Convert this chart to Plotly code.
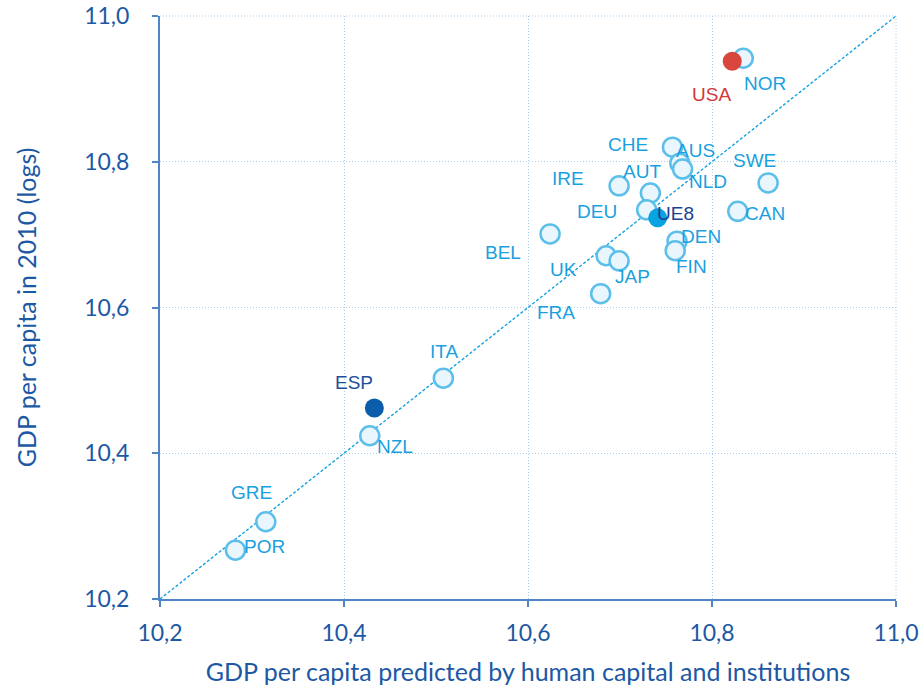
import plotly.graph_objects as go

countries = ["NOR", "USA", "CHE", "AUS", "NLD", "IRE", "AUT", "DEU", "UE8", "BEL",
             "UK", "JAP", "FRA", "DEN", "FIN", "SWE", "CAN", "ITA", "ESP", "NZL",
             "GRE", "POR"]
predicted = [10.834, 10.822, 10.757, 10.765, 10.768, 10.699, 10.733, 10.729, 10.741, 10.624,
             10.685, 10.699, 10.679, 10.762, 10.760, 10.861, 10.828, 10.508, 10.433, 10.428,
             10.315, 10.282]
actual = [10.942, 10.938, 10.820, 10.798, 10.790, 10.767, 10.757, 10.734, 10.723, 10.701,
          10.671, 10.664, 10.619, 10.691, 10.678, 10.771, 10.732, 10.503, 10.462, 10.424,
          10.306, 10.267]
tick_vals = [10.2, 10.4, 10.6, 10.8, 11.0]
axis_range = [10.2, 11.0]

# label offsets in pixels (dx right, dy down)
label_offsets = {
    "NOR": (22, 25), "USA": (-21, 33), "CHE": (-44, -3), "AUS": (16, -13),
    "NLD": (25, 12), "IRE": (-51, -7), "AUT": (-8, -22), "DEU": (-50, 2),
    "UE8": (18, -4), "BEL": (-47, 19), "UK": (-43, 14), "JAP": (13, 16),
    "FRA": (-45, 19), "DEN": (24, -5), "FIN": (16, 16), "SWE": (-14, -22),
    "CAN": (27, 2), "ITA": (1, -27), "ESP": (-20, -26), "NZL": (25, 11),
    "GRE": (-14, -29), "POR": (29, -4),
}
special_marker = {"USA": "#d9463e", "ESP": "#0b5dab", "UE8": "#0aa3e2"}
label_colors = {"USA": "#d2393a", "ESP": "#1d4f98", "UE8": "#1e3f90"}
default_label = "#1a9fe0"
axis_text = "#1c58a4"
axis_font = "Lato, Open Sans, sans-serif"
grid_color = "#a9cdee"

fig = go.Figure()

# 45-degree line
fig.add_trace(go.Scatter(
    x=axis_range, y=axis_range, mode="lines",
    line=dict(color="#14a2df", width=1.4, dash="3px,2px"),
    hoverinfo="skip", showlegend=False,
))

reg = [i for i, c in enumerate(countries) if c not in special_marker]
fig.add_trace(go.Scatter(
    x=[predicted[i] for i in reg], y=[actual[i] for i in reg],
    mode="markers",
    marker=dict(size=19, color="#e9f6fd", line=dict(color="#5cbfe9", width=2.5)),
    text=[countries[i] for i in reg], showlegend=False,
))
for c, col in special_marker.items():
    i = countries.index(c)
    fig.add_trace(go.Scatter(
        x=[predicted[i]], y=[actual[i]], mode="markers",
        marker=dict(size=19, color=col, line=dict(width=0)),
        text=[c], showlegend=False,
    ))

for i, c in enumerate(countries):
    dx, dy = label_offsets[c]
    fig.add_annotation(
        x=predicted[i], y=actual[i], text=c, showarrow=False,
        xshift=dx, yshift=-dy,
        font=dict(family="Liberation Sans, Arial, sans-serif", size=19,
                  color=label_colors.get(c, default_label)),
    )

# dotted frame lines at the top and right edges (gridlines at 11,0)
fig.add_shape(type="line", xref="paper", yref="paper", x0=0, x1=1, y0=1, y1=1,
              line=dict(color=grid_color, width=1, dash="1px,2px"), layer="below")
fig.add_shape(type="line", xref="paper", yref="paper", x0=1, x1=1, y0=0, y1=1,
              line=dict(color=grid_color, width=1, dash="1px,2px"), layer="below")

axis_common = dict(
    range=axis_range, tickvals=tick_vals, tickformat=".1f",
    showgrid=True, gridcolor=grid_color, griddash="1px,2px", gridwidth=1,
    showline=True, linecolor="#4f86c6", linewidth=2,
    ticks="outside", ticklen=6, tickcolor="#4f86c6", tickwidth=1.5,
    tickfont=dict(family=axis_font, size=23, color=axis_text),
    zeroline=False, automargin=False, ticklabeloverflow="allow",
)

fig.update_layout(
    width=920, height=693,
    margin=dict(l=160, r=24, t=16, b=94),
    plot_bgcolor="white", paper_bgcolor="white",
    separators=", ",
    xaxis=dict(**axis_common, ticklabelstandoff=6,
               title=dict(text="GDP per capita predicted by human capital and institutions",
                          font=dict(family=axis_font, size=25, color=axis_text),
                          standoff=19)),
    yaxis=dict(**axis_common, ticklabelstandoff=18,
               title=dict(text="GDP per capita in 2010 (logs)",
                          font=dict(family=axis_font, size=25, color=axis_text),
                          standoff=40)),
)

fig.write_html("out.html", config={"displayModeBar": False},
               post_script="document.body.style.margin='0';document.body.style.overflow='hidden';")
